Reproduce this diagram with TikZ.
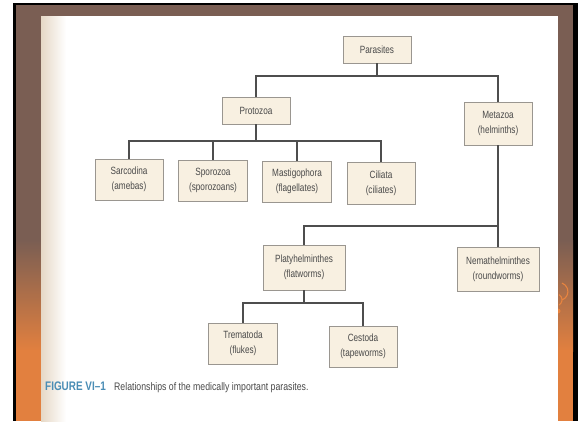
\documentclass[tikz,border=0pt]{standalone}
\usepackage{fontspec}
\setmainfont{Liberation Sans}[FakeStretch=0.78]
\newfontfamily\capfont{Liberation Sans}[FakeStretch=0.80]
\definecolor{bgbrown}{HTML}{7A5E53}
\definecolor{bgorange}{HTML}{E2803F}
\definecolor{pagebeige}{HTML}{E6D8C6}
\definecolor{boxfill}{HTML}{F8F0E1}
\definecolor{boxline}{HTML}{9A9690}
\definecolor{conn}{HTML}{4E4E4E}
\definecolor{txt}{HTML}{4A4A4A}
\definecolor{figblue}{HTML}{4A8DB5}
\definecolor{swirl}{HTML}{E8843F}
\tikzset{
  taxbox/.style={draw=boxline, line width=0.8pt, fill=boxfill, inner sep=0pt,
    align=center, text=txt, font=\fontsize{10.5}{15}\selectfont},
  conline/.style={draw=conn, line width=1.2pt}
}
\begin{document}
\begin{tikzpicture}[x=1pt,y=-1pt]
\useasboundingbox (0,0) rectangle (578,421);
% background
\fill[white] (0,0) rectangle (578,421);
\fill[black] (13,2.5) rectangle (578,421);
\fill[bgbrown] (16,5) rectangle (573,241);
\shade[top color=bgbrown, bottom color=bgorange] (16,240) rectangle (573,351);
\fill[bgorange] (16,350) rectangle (573,421);
% swirl decoration
\begin{scope}[swirl, line width=1.1pt]
  \draw (562,300) arc[start angle=70, end angle=-70, radius=9];
  \draw (559,305) arc[start angle=60, end angle=-60, radius=6];
  \fill (558,311) circle (2.5);
\end{scope}
% page
\fill[white] (41,16) rectangle (558,421);
\shade[left color=pagebeige, right color=white] (41,16) rectangle (66,421);
% nodes
\node[taxbox, minimum width=68, minimum height=27] (par) at (377,49.5) {Parasites};
\node[taxbox, minimum width=68, minimum height=27] (proto) at (256,110.5) {Protozoa};
\node[taxbox, minimum width=68, minimum height=43] (meta) at (498,123.5) {Metazoa\\(helminths)};
\node[taxbox, minimum width=68, minimum height=41] (sar) at (129,179.5) {Sarcodina\\(amebas)};
\node[taxbox, minimum width=69, minimum height=41] (spo) at (213,180.5) {Sporozoa\\(sporozoans)};
\node[taxbox, minimum width=69, minimum height=41] (mas) at (297,181.5) {Mastigophora\\(flagellates)};
\node[taxbox, minimum width=68, minimum height=42] (cil) at (381,183) {Ciliata\\(ciliates)};
\node[taxbox, minimum width=82, minimum height=45] (pla) at (304,267.5) {Platyhelminthes\\(flatworms)};
\node[taxbox, minimum width=82, minimum height=44] (nem) at (498,269) {Nemathelminthes\\(roundworms)};
\node[taxbox, minimum width=69, minimum height=41] (tre) at (243,343.5) {Trematoda\\(flukes)};
\node[taxbox, minimum width=68, minimum height=41] (ces) at (363,346.5) {Cestoda\\(tapeworms)};
% junctions
\coordinate (j1) at (377,76);
\coordinate (j2) at (256,141);
\coordinate (j3) at (498,226);
\coordinate (j4) at (304,303);
% connectors
\draw[conline] (par.south) -- (j1);
\draw[conline] (proto.north) |- (j1) -| (meta.north);
\draw[conline] (proto.south) -- (j2);
\draw[conline] (sar.north) |- (j2) -| (cil.north);
\draw[conline] (spo.north) -- (spo.north |- j2);
\draw[conline] (mas.north) -- (mas.north |- j2);
\draw[conline] (meta.south) -- (j3) -- (nem.north);
\draw[conline] (j3) -| (pla.north);
\draw[conline] (pla.south) -- (j4);
\draw[conline] (tre.north) |- (j4) -| (ces.north);
% caption
\node[anchor=base west, inner sep=0pt, text=figblue, font=\capfont\bfseries\fontsize{12.4}{14}\selectfont] (figlab) at (45,390) {FIGURE VI–1};
\node[anchor=base west, inner sep=0pt, text=txt, font=\capfont\fontsize{10.9}{12}\selectfont] (figcap) at (114,390) {Relationships of the medically important parasites.};
\end{tikzpicture}
\end{document}
